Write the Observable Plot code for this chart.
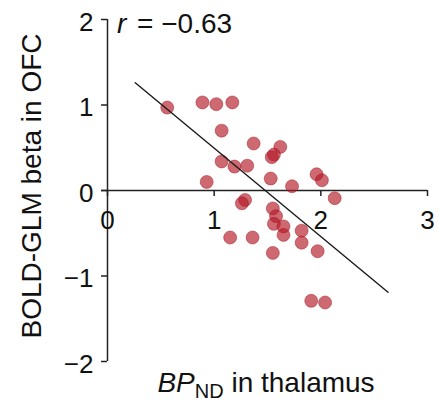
<!DOCTYPE html>
<html>
<head>
<meta charset="utf-8">
<script src="https://cdn.jsdelivr.net/npm/d3@7"></script>
<script src="https://cdn.jsdelivr.net/npm/@observablehq/plot@0.6"></script>
<style>
  html, body { margin: 0; padding: 0; background: #fff; }
  #chart svg { display: block; }
</style>
</head>
<body>
<div id="chart"></div>
<script>
// BP_ND in thalamus (x) vs BOLD-GLM beta in OFC (y)
const bpND = [0.56, 0.89, 1.02, 1.17, 1.07, 1.37, 1.62, 1.56, 1.54, 1.07, 1.19, 1.31, 1.53, 1.73, 1.96, 2.01, 0.93, 2.13,
              1.29, 1.26, 1.55, 1.58, 1.56, 1.65, 1.65, 1.82, 1.82, 1.15, 1.36, 1.55, 1.97, 1.91, 2.04];
const beta = [0.97, 1.03, 1.01, 1.03, 0.70, 0.55, 0.51, 0.42, 0.39, 0.34, 0.28, 0.29, 0.14, 0.05, 0.19, 0.12, 0.10, -0.09,
              -0.11, -0.15, -0.21, -0.30, -0.39, -0.42, -0.52, -0.47, -0.61, -0.55, -0.55, -0.73, -0.71, -1.29, -1.31];
const fitX = [0.26, 2.63];
const fitY = [1.26, -1.19];
const xTicks = [0, 1, 2, 3];
const yTicks = [-2, -1, 0, 1, 2];
const yTickLabels = ["\u22122", "\u22121", "0", "1", "2"];
const xTickLabels = ["0", "1", "2", "3"];
const rValue = "= \u22120.63";
const yTitle = "BOLD-GLM beta in OFC";
const xTitleItalic = "BP";
const xTitleSub = "ND";
const xTitleRest = " in thalamus";

const points = bpND.map((x, i) => ({x, y: beta[i]}));
const fit = fitX.map((x, i) => ({x, y: fitY[i]}));
const yT = yTicks.map((v, i) => ({v, label: yTickLabels[i]}));
const xT = xTicks.map((v, i) => ({v, label: xTickLabels[i]}));
const font = "'Liberation Sans', Arial, Helvetica, sans-serif";

const chart = Plot.plot({
  width: 439,
  height: 405,
  marginLeft: 107,
  marginRight: 12,
  marginTop: 19,
  marginBottom: 44,
  style: {fontFamily: font, background: "#fff", overflow: "visible"},
  x: {type: "linear", domain: [0, 3], axis: null},
  y: {type: "linear", domain: [-2, 2], axis: null},
  marks: [
    // y axis line and outward ticks
    Plot.ruleX([0], {x: d => d, y1: -2, y2: 2, stroke: "#222", strokeWidth: 1.5}),
    Plot.ruleY(yT, {y: "v", x1: -0.056, x2: 0, stroke: "#222", strokeWidth: 1.5}),
    // x axis at y = 0 and outward (downward) ticks
    Plot.ruleY([0], {y: d => d, x1: -0.056, x2: 3, stroke: "#222", strokeWidth: 1.5}),
    Plot.ruleX(xT, {x: "v", y1: 0, y2: -0.07, stroke: "#222", strokeWidth: 1.5}),
    // tick labels
    Plot.text(yT, {x: () => 0, y: "v", text: "label", textAnchor: "end", dx: -14, dy: 3, fontSize: 26, fill: "#111"}),
    Plot.text(xT, {x: "v", y: () => 0, text: "label", dy: 30, fontSize: 26, fill: "#111"}),
    // data points
    Plot.dot(points, {x: "x", y: "y", r: 6.5, fill: "#b51a28", fillOpacity: 0.66, stroke: "#a01522", strokeOpacity: 0.45, strokeWidth: 1}),
    // regression line
    Plot.line(fit, {x: "x", y: "y", stroke: "#1a1a1a", strokeWidth: 1.4})
  ]
});

// rich-text labels (italic / subscript) added as real SVG text
const svg = d3.select(chart);
const rt = svg.append("text")
  .attr("x", 117).attr("y", 33)
  .attr("text-anchor", "start")
  .attr("font-family", font).attr("font-size", 28).attr("fill", "#111");
rt.append("tspan").attr("font-style", "italic").text("r");
rt.append("tspan").attr("dx", 3).text(" " + rValue);

svg.append("text")
  .attr("transform", "translate(41,186) rotate(-90)")
  .attr("text-anchor", "middle")
  .attr("font-family", font).attr("font-size", 28).attr("fill", "#111")
  .text(yTitle);

const xt = svg.append("text")
  .attr("x", 266).attr("y", 392)
  .attr("text-anchor", "middle")
  .attr("font-family", font).attr("font-size", 28).attr("fill", "#111");
xt.append("tspan").attr("font-style", "italic").text(xTitleItalic);
xt.append("tspan").attr("font-size", 20).attr("dy", 6).text(xTitleSub);
xt.append("tspan").attr("dy", -6).text(xTitleRest);

document.getElementById("chart").appendChild(chart);
</script>
</body>
</html>
